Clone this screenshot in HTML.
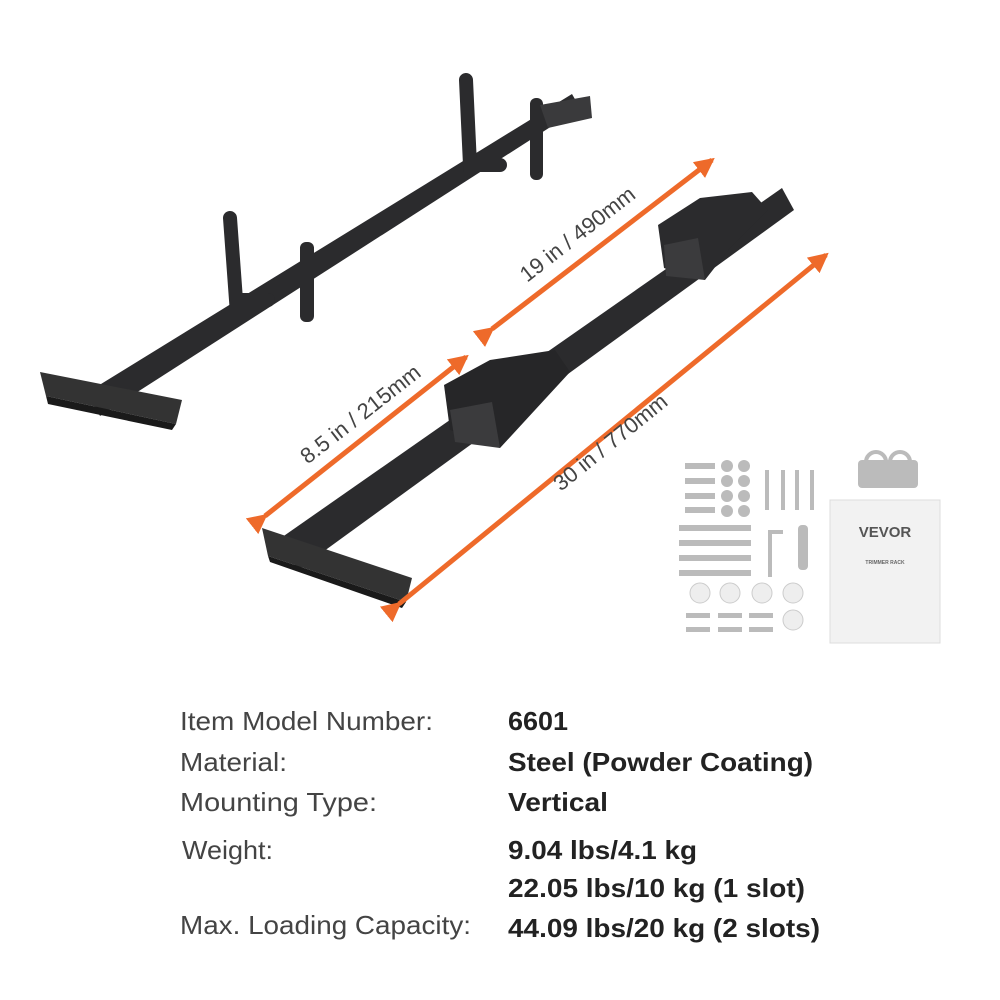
<!DOCTYPE html>
<html><head><style>html,body{margin:0;padding:0;background:#fff}svg{display:block}</style></head>
<body>
<svg width="1000" height="1000" viewBox="0 0 1000 1000" xmlns="http://www.w3.org/2000/svg">
<defs>
<marker id="ah" markerWidth="4" markerHeight="4" refX="3.3" refY="2" orient="auto" markerUnits="strokeWidth"><path d="M0,0 L4,2 L0,4 Z" fill="#ee6a2a"/></marker>
</defs>
<!-- left rack -->
<g fill="#2b2b2d">
<polygon points="88,392 572,94 580,108 100,416"/>
<polygon points="40,372 182,400 176,424 46,396" fill="#333"/>
<polygon points="46,396 176,424 172,430 48,404" fill="#1a1a1a"/>
<rect x="300" y="242" width="14" height="80" rx="6"/>
<rect x="530" y="98" width="13" height="82" rx="6"/>
<path d="M230,218 L236,300 L268,300" stroke="#2b2b2d" stroke-width="14" fill="none" stroke-linecap="round"/>
<path d="M466,80 L470,165 L500,165" stroke="#2b2b2d" stroke-width="14" fill="none" stroke-linecap="round"/>
<polygon points="540,105 590,96 592,118 548,128" fill="#3a3a3c"/>
</g>
<!-- right rack -->
<g fill="#2b2b2d">
<polygon points="278,540 782,188 794,210 298,570"/>
<polygon points="262,528 412,578 406,602 268,556" fill="#333"/>
<polygon points="268,556 406,602 402,608 270,562" fill="#1a1a1a"/>
<polygon points="444,385 490,360 555,350 570,372 535,410 500,448 450,430" fill="#262628"/>
<polygon points="450,410 492,402 500,448 455,442" fill="#3b3b3d"/>
<polygon points="658,225 700,198 752,192 768,210 730,248 705,280 664,268"/>
<polygon points="664,245 698,238 705,280 666,276" fill="#3b3b3d"/>
</g>
<!-- arrows -->
<g stroke="#ee6a2a" stroke-width="5" fill="none">
<line x1="492" y1="329" x2="712" y2="160" marker-end="url(#ah)" marker-start="url(#ah)"/>
<line x1="265" y1="516" x2="466" y2="357" marker-end="url(#ah)" marker-start="url(#ah)"/>
<line x1="399" y1="604" x2="826" y2="255" marker-end="url(#ah)" marker-start="url(#ah)"/>
</g>
<g font-family="Liberation Sans, sans-serif" font-size="22" fill="#444">
<text transform="translate(582,240) rotate(-38)" text-anchor="middle">19 in / 490mm</text>
<text transform="translate(365,420) rotate(-38)" text-anchor="middle">8.5 in / 215mm</text>
<text transform="translate(615,448) rotate(-39)" text-anchor="middle">30 in / 770mm</text>
</g>
<!-- hardware -->
<g fill="#bbb">
<rect x="685" y="463" width="30" height="6"/><rect x="685" y="478" width="30" height="6"/><rect x="685" y="493" width="30" height="6"/><rect x="685" y="507" width="30" height="6"/>
<circle cx="727" cy="466" r="6"/><circle cx="744" cy="466" r="6"/><circle cx="727" cy="481" r="6"/><circle cx="744" cy="481" r="6"/><circle cx="727" cy="496" r="6"/><circle cx="744" cy="496" r="6"/><circle cx="727" cy="511" r="6"/><circle cx="744" cy="511" r="6"/>
<rect x="679" y="525" width="72" height="6"/><rect x="679" y="540" width="72" height="6"/><rect x="679" y="555" width="72" height="6"/><rect x="679" y="570" width="72" height="6"/>
<rect x="765" y="470" width="4" height="40"/><rect x="781" y="470" width="4" height="40"/><rect x="795" y="470" width="4" height="40"/><rect x="810" y="470" width="4" height="40"/>
<rect x="768" y="532" width="4" height="45"/><rect x="768" y="530" width="15" height="4"/>
<rect x="798" y="525" width="10" height="45" rx="4"/>
<rect x="858" y="460" width="60" height="28" rx="4"/>
<rect x="686" y="613" width="24" height="5"/><rect x="718" y="613" width="24" height="5"/><rect x="749" y="613" width="24" height="5"/>
<rect x="686" y="627" width="24" height="5"/><rect x="718" y="627" width="24" height="5"/><rect x="749" y="627" width="24" height="5"/>
</g>
<g fill="#eee" stroke="#ccc"><circle cx="700" cy="593" r="10"/><circle cx="730" cy="593" r="10"/><circle cx="762" cy="593" r="10"/><circle cx="793" cy="593" r="10"/><circle cx="793" cy="620" r="10"/></g>
<path d="M866,462 a10,10 0 0 1 20,0 M890,462 a10,10 0 0 1 20,0" stroke="#bbb" stroke-width="4" fill="none"/>
<rect x="830" y="500" width="110" height="143" fill="#f2f2f2" stroke="#ddd"/>
<text x="885" y="537" text-anchor="middle" font-family="Liberation Sans, sans-serif" font-weight="bold" font-size="15" fill="#555">VEVOR</text>
<text x="885" y="564" text-anchor="middle" font-family="Liberation Sans, sans-serif" font-weight="bold" font-size="5" fill="#666">TRIMMER RACK</text>
<!-- table -->
<g font-family="Liberation Sans, sans-serif" font-size="26" fill="#444">
<text x="180" y="730" textLength="253" lengthAdjust="spacingAndGlyphs">Item Model Number:</text>
<text x="180" y="771" textLength="107" lengthAdjust="spacingAndGlyphs">Material:</text>
<text x="180" y="811" textLength="197" lengthAdjust="spacingAndGlyphs">Mounting Type:</text>
<text x="182" y="859" textLength="91" lengthAdjust="spacingAndGlyphs">Weight:</text>
<text x="180" y="934" textLength="291" lengthAdjust="spacingAndGlyphs">Max. Loading Capacity:</text>
</g>
<g font-family="Liberation Sans, sans-serif" font-size="26" font-weight="bold" fill="#222">
<text x="508" y="730" textLength="60" lengthAdjust="spacingAndGlyphs">6601</text>
<text x="508" y="771" textLength="305" lengthAdjust="spacingAndGlyphs">Steel (Powder Coating)</text>
<text x="508" y="811" textLength="100" lengthAdjust="spacingAndGlyphs">Vertical</text>
<text x="508" y="859" textLength="189" lengthAdjust="spacingAndGlyphs">9.04 lbs/4.1 kg</text>
<text x="508" y="897" textLength="297" lengthAdjust="spacingAndGlyphs">22.05 lbs/10 kg (1 slot)</text>
<text x="508" y="937" textLength="312" lengthAdjust="spacingAndGlyphs">44.09 lbs/20 kg (2 slots)</text>
</g>
</svg>
</body></html>
